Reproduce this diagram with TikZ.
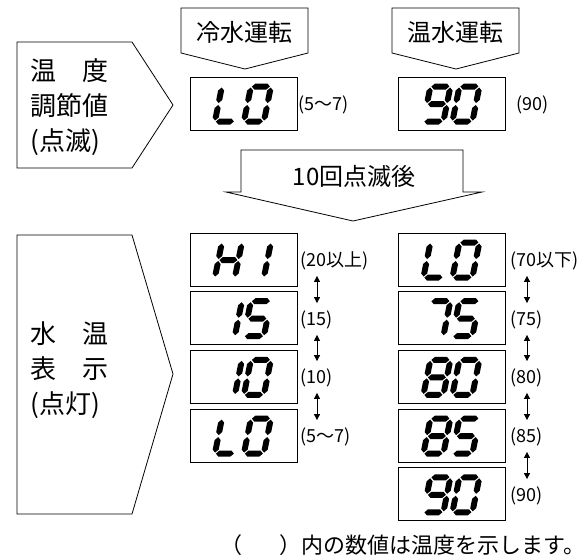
\documentclass[tikz,border=0pt]{standalone}
\usepackage{fontspec}
\setmainfont{Noto Sans CJK JP}
\usepackage{tikz}
\usetikzlibrary{arrows.meta}

% seven-segment pieces, local frame: top-left origin, y down
\newcommand{\lcdhseg}[1]{\fill (4,#1) -- (7,#1-3) -- (19,#1-3) -- (22,#1) -- (19,#1+3) -- (7,#1+3) -- cycle;}
\newcommand{\lcdvseg}[3]{\fill (#1,#2) -- (#1+3,#2+3) -- (#1+3,#3-3) -- (#1,#3) -- (#1-3,#3-3) -- (#1-3,#2+3) -- cycle;}
\newcommand{\lcda}{\lcdhseg{3}}
\newcommand{\lcdg}{\lcdhseg{20.5}}
\newcommand{\lcdd}{\lcdhseg{38}}
\newcommand{\lcdf}{\lcdvseg{3}{4}{19.5}}
\newcommand{\lcde}{\lcdvseg{3}{21.5}{37}}
\newcommand{\lcdb}{\lcdvseg{23}{4}{19.5}}
\newcommand{\lcdc}{\lcdvseg{23}{21.5}{37}}
\newcommand{\lcddigit}[3]{\begin{scope}[shift={(#1,#2)},xslant=0.2]\foreach \s in {#3}{\csname lcd\s\endcsname}\end{scope}}
% two digits inside a display node
\newcommand{\lcdpair}[3]{\begin{scope}[shift={(#1.north west)}]\lcddigit{30}{7}{#2}\lcddigit{59}{7}{#3}\end{scope}}

\begin{document}
\begin{tikzpicture}[x=1pt,y=-1pt,
  line width=0.8pt,
  lcd/.style={draw, line width=1pt, minimum width=107pt, minimum height=53pt, inner sep=0pt},
  big/.style={font=\fontsize{26}{35}\selectfont, align=left, inner sep=0pt, anchor=west},
  head/.style={font=\fontsize{24}{28}\selectfont, inner sep=0pt},
  val/.style={font=\fontsize{18}{20}\selectfont, inner sep=0pt, anchor=west, text height=12pt, text depth=5pt},
  updown/.style={{Triangle[length=6pt,width=6pt]}-{Triangle[length=6pt,width=6pt]}, line width=0.8pt, shorten <=4pt, shorten >=10pt}
]
\useasboundingbox (0,0) rectangle (587,558);

% set value (blinking)
\draw (17,42) -- (132,42) -- (173,105) -- (132,168) -- (17,168) -- cycle;
\node[big] (setlbl) at (30,107) {温　度\\調節値\\(点滅)};
\draw (181,8) -- (308,8) -- (308,53) -- (245,69) -- (181,53) -- cycle;
\node[head] (cold) at (244.5,32) {冷水運転};
\draw (392,8) -- (519,8) -- (519,53) -- (456,69) -- (392,53) -- cycle;
\node[head] (warm) at (455.5,32) {温水運転};

\node[lcd] (setlo) at (243.5,103.5) {};
\lcdpair{setlo}{d,e,f}{a,b,c,d,e,f}
\node[lcd] (set90) at (452,103.5) {};
\lcdpair{set90}{a,b,c,d,f,g}{a,b,c,d,e,f}
\node[val] (setlov) at (298,107) {(5〜7)};
\node[val] (set90v) at (516,107) {(90)};

\draw (241,150) -- (463,150) -- (463,192) -- (482,192) -- (353,221) -- (226,192) -- (241,192) -- cycle;
\node[head] (after) at (354,176) {10回点滅後};

% water temperature (lit)
\draw (17,235) -- (132,235) -- (173,374) -- (132,514) -- (17,514) -- cycle;
\node[big] (showlbl) at (30,370) {水　温\\表　示\\(点灯)};

\node[lcd] (c1) at (243.5,259.5) {};
\lcdpair{c1}{b,c,e,f,g}{b,c}
\node[lcd] (c2) at (243.5,318.2) {};
\lcdpair{c2}{b,c}{a,c,d,f,g}
\node[lcd] (c3) at (243.5,376.9) {};
\lcdpair{c3}{b,c}{a,b,c,d,e,f}
\node[lcd] (c4) at (243.5,435.6) {};
\lcdpair{c4}{d,e,f}{a,b,c,d,e,f}

\node[lcd] (w1) at (452,259.5) {};
\lcdpair{w1}{d,e,f}{a,b,c,d,e,f}
\node[lcd] (w2) at (452,318.2) {};
\lcdpair{w2}{a,b,c}{a,c,d,f,g}
\node[lcd] (w3) at (452,376.9) {};
\lcdpair{w3}{a,b,c,d,e,f,g}{a,b,c,d,e,f}
\node[lcd] (w4) at (452,435.6) {};
\lcdpair{w4}{a,b,c,d,e,f,g}{a,c,d,f,g}
\node[lcd] (w5) at (452,494.3) {};
\lcdpair{w5}{a,b,c,d,f,g}{a,b,c,d,e,f}

\node[val] (cv1) at (300,263) {(20以上)};
\node[val] (cv2) at (300,322) {(15)};
\node[val] (cv3) at (300,380) {(10)};
\node[val] (cv4) at (300,439) {(5〜7)};
\node[val] (wv1) at (510,263) {(70以下)};
\node[val] (wv2) at (510,322) {(75)};
\node[val] (wv3) at (510,380) {(80)};
\node[val] (wv4) at (510,439) {(85)};
\node[val] (wv5) at (510,498) {(90)};

\foreach \a/\b in {cv1/cv2, cv2/cv3, cv3/cv4, wv1/wv2, wv2/wv3, wv3/wv4, wv4/wv5}
  \draw[updown] ([xshift=17pt]\a.south west) -- ([xshift=17pt]\b.north west);

\node[font=\fontsize{22}{24}\selectfont, anchor=west, inner sep=0pt] (note) at (220,545) {（\hspace{1.7em}）内の数値は温度を示します。};
\end{tikzpicture}
\end{document}
